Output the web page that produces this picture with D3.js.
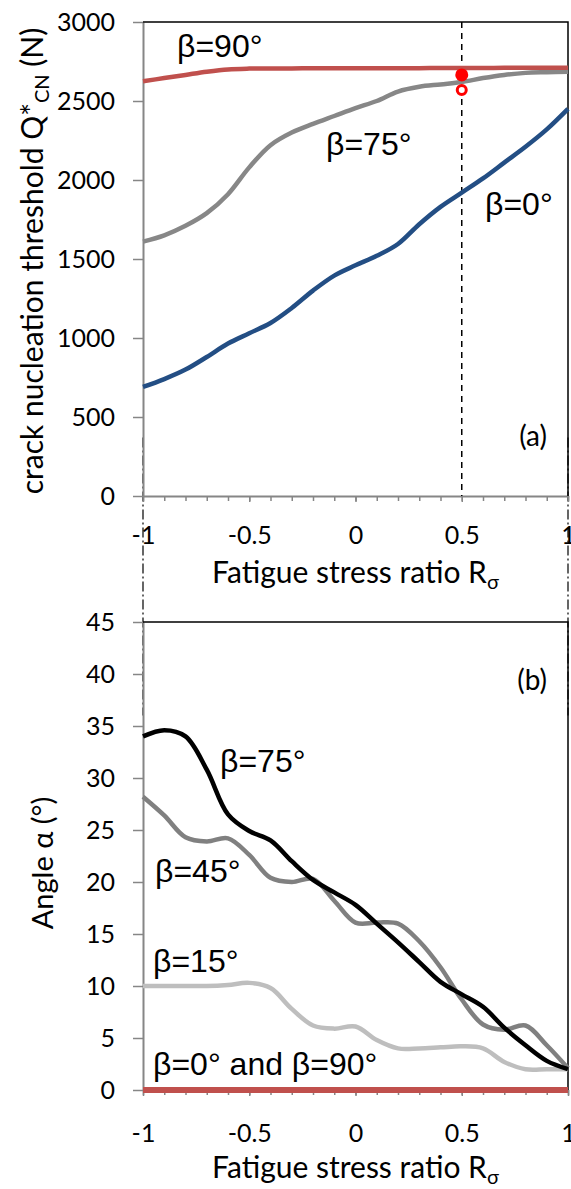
<!DOCTYPE html>
<html lang="en">
<head>
<meta charset="utf-8">
<script src="https://d3js.org/d3.v7.min.js"></script>
<style>
  body { margin: 0; background: #fff; }
  .calib { font-family: Lato, "Open Sans", sans-serif; fill: #000; }
  .lbl { font-family: "Liberation Sans", Arial, sans-serif; font-size: 32px; fill: #000; }
</style>
</head>
<body>
<div id="chart"></div>
<script>
// fatigue stress ratio R_sigma, shared by every curve
var ratios = [-1, -0.9, -0.8, -0.7, -0.6, -0.5, -0.4, -0.3, -0.2, -0.1, 0,
              0.1, 0.2, 0.3, 0.4, 0.5, 0.6, 0.7, 0.8, 0.9, 1];

// panel (a) : crack nucleation threshold Q*CN (N)
var qBeta0  = [690, 740, 800, 880, 965, 1030, 1095, 1190, 1300, 1395, 1460,
               1520, 1595, 1720, 1830, 1920, 2010, 2110, 2210, 2320, 2450];
var qBeta75 = [1610, 1650, 1710, 1790, 1910, 2080, 2220, 2300, 2355, 2405, 2455,
               2500, 2560, 2590, 2605, 2620, 2645, 2665, 2678, 2682, 2685];
var qBeta90 = [2625, 2645, 2665, 2685, 2700, 2705, 2706, 2706, 2707, 2707, 2707,
               2708, 2708, 2708, 2709, 2709, 2709, 2710, 2710, 2710, 2710];
var markRatio = 0.5;
var markFilled = 2665;
var markOpen = 2570;

// panel (b) : angle alpha (deg)
var aBeta75 = [34.0, 34.6, 34.0, 30.8, 26.5, 24.9, 24.0, 22.0, 20.2, 19.0, 17.8,
               16.0, 14.2, 12.3, 10.4, 9.2, 8.0, 6.0, 4.3, 2.8, 2.0];
var aBeta45 = [28.2, 26.4, 24.3, 23.9, 24.2, 22.6, 20.4, 20.0, 20.3, 18.2, 16.1,
               16.1, 16.0, 14.3, 11.8, 8.7, 6.3, 5.8, 6.2, 4.3, 2.1];
var aBeta15 = [10, 10, 10, 10, 10.1, 10.3, 9.8, 7.8, 6.2, 5.9, 6.1,
               4.8, 4.0, 4.0, 4.1, 4.2, 4.0, 2.7, 2.0, 2.0, 2.0];
var aBeta0and90 = [0, 0, 0, 0, 0, 0, 0, 0, 0, 0, 0,
                   0, 0, 0, 0, 0, 0, 0, 0, 0, 0];

// tick labels
var xMajor = [-1, -0.5, 0, 0.5, 1];
var yTicksA = [0, 500, 1000, 1500, 2000, 2500, 3000];
var yTicksB = [0, 5, 10, 15, 20, 25, 30, 35, 40, 45];

var W = 571, H = 1189;
var left = 143, right = 568;

var svg = d3.select("#chart").append("svg")
  .attr("width", W)
  .attr("height", H);

var x = d3.scaleLinear().domain([-1, 1]).range([left, right]);
var yA = d3.scaleLinear().domain([0, 3000]).range([496, 22]);
var yB = d3.scaleLinear().domain([0, 45]).range([1090, 622]);

var axisGrey = "#868686";
var plain = function(d) { return String(d); };

// dash-dot connectors between the two panels
[left, right].forEach(function(px) {
  svg.append("line")
    .attr("x1", px).attr("x2", px)
    .attr("y1", yA(370)).attr("y2", yB(36))
    .attr("stroke", "#000")
    .attr("stroke-width", 1.2)
    .attr("stroke-dasharray", "10,3,2,3");
});

function drawAxes(y, yTicks, labelPad) {
  var bottom = y.range()[0], top = y.range()[1];

  // minor x ticks
  svg.append("g")
    .attr("transform", "translate(0," + bottom + ")")
    .call(d3.axisBottom(x).tickValues(ratios).tickSize(5).tickFormat(""))
    .call(function(g) { g.select(".domain").remove(); })
    .selectAll("line").attr("stroke", axisGrey).attr("stroke-width", 1.5);

  var gx = svg.append("g")
    .attr("transform", "translate(0," + bottom + ")")
    .call(d3.axisBottom(x).tickValues(xMajor).tickSize(6).tickSizeOuter(0)
      .tickPadding(labelPad).tickFormat(plain));
  gx.select(".domain").attr("stroke", axisGrey).attr("stroke-width", 2);
  gx.selectAll("line").attr("stroke", axisGrey).attr("stroke-width", 1.5);
  gx.selectAll("text").attr("font-size", 25).attr("font-family", "Lato").attr("fill", "#000");

  var gy = svg.append("g")
    .attr("transform", "translate(" + left + ",0)")
    .call(d3.axisLeft(y).tickValues(yTicks).tickSize(10).tickSizeOuter(0)
      .tickPadding(18).tickFormat(plain));
  gy.select(".domain").attr("stroke", axisGrey).attr("stroke-width", 2);
  gy.selectAll("line").attr("stroke", axisGrey).attr("stroke-width", 1.5);
  gy.selectAll("text").attr("font-size", 25).attr("font-family", "Lato").attr("fill", "#000");

  // top and right frame
  svg.append("path")
    .attr("d", "M" + left + "," + top + "H" + right + "V" + bottom)
    .attr("fill", "none")
    .attr("stroke", "#000")
    .attr("stroke-width", 1.5);
}

drawAxes(yA, yTicksA, 24);
drawAxes(yB, yTicksB, 28);

function curve(y) {
  return d3.line()
    .x(function(d, i) { return x(ratios[i]); })
    .y(function(d) { return y(d); })
    .curve(d3.curveCatmullRom.alpha(0.5));
}

function addLine(values, y, color, w) {
  svg.append("path")
    .datum(values)
    .attr("d", curve(y))
    .attr("fill", "none")
    .attr("stroke", color)
    .attr("stroke-width", w)
    .attr("stroke-linejoin", "round");
}

// panel (a)
svg.append("line")
  .attr("x1", x(markRatio)).attr("x2", x(markRatio))
  .attr("y1", yA(3000)).attr("y2", yA(0))
  .attr("stroke", "#000")
  .attr("stroke-width", 1.5)
  .attr("stroke-dasharray", "6,5");

addLine(qBeta0, yA, "#234E84", 4.5);
addLine(qBeta75, yA, "#878787", 4.5);
addLine(qBeta90, yA, "#C0504D", 4.5);

svg.append("circle")
  .attr("cx", x(markRatio)).attr("cy", yA(markFilled))
  .attr("r", 6.5).attr("fill", "#FF0000");
svg.append("circle")
  .attr("cx", x(markRatio)).attr("cy", yA(markOpen))
  .attr("r", 4.5).attr("fill", "#fff")
  .attr("stroke", "#FF0000").attr("stroke-width", 3);

// panel (b)
addLine(aBeta15, yB, "#BEBEBE", 4.5);
addLine(aBeta45, yB, "#808080", 4.5);
addLine(aBeta75, yB, "#000000", 4.5);
addLine(aBeta0and90, yB, "#C0504D", 6);

// curve labels
var labels = [
  {t: "β=90°", x: 177, y: 57},
  {t: "β=75°", x: 326, y: 155},
  {t: "β=0°", x: 485, y: 215},
  {t: "β=75°", x: 220, y: 772},
  {t: "β=45°", x: 155, y: 882},
  {t: "β=15°", x: 153, y: 972},
  {t: "β=0° and β=90°", x: 153, y: 1075}
];
svg.selectAll(".lbl")
  .data(labels)
  .enter()
  .append("text")
  .attr("class", "lbl")
  .attr("x", function(d) { return d.x; })
  .attr("y", function(d) { return d.y; })
  .text(function(d) { return d.t; });

svg.append("text").attr("class", "calib")
  .attr("x", 547).attr("y", 446).attr("text-anchor", "end")
  .attr("font-size", 28).text("(a)");
svg.append("text").attr("class", "calib")
  .attr("x", 547).attr("y", 690).attr("text-anchor", "end")
  .attr("font-size", 28).text("(b)");

// axis titles
[583, 1178].forEach(function(by) {
  var t = svg.append("text").attr("class", "calib")
    .attr("x", (left + right) / 2).attr("y", by)
    .attr("text-anchor", "middle")
    .attr("font-size", 30);
  t.append("tspan").text("Fatigue stress ratio R");
  t.append("tspan").attr("font-size", 20).attr("dy", 6).text("σ");
});

var ta = svg.append("text").attr("class", "calib")
  .attr("transform", "translate(43,261) rotate(-90)")
  .attr("text-anchor", "middle")
  .attr("font-size", 30);
ta.append("tspan").text("crack nucleation threshold Q*");
ta.append("tspan").attr("font-size", 20).attr("dy", 6).text("CN");
ta.append("tspan").attr("dy", -6).text(" (N)");

svg.append("text").attr("class", "calib")
  .attr("transform", "translate(53,863) rotate(-90)")
  .attr("text-anchor", "middle")
  .attr("font-size", 29)
  .text("Angle α (°)");
</script>
</body>
</html>
